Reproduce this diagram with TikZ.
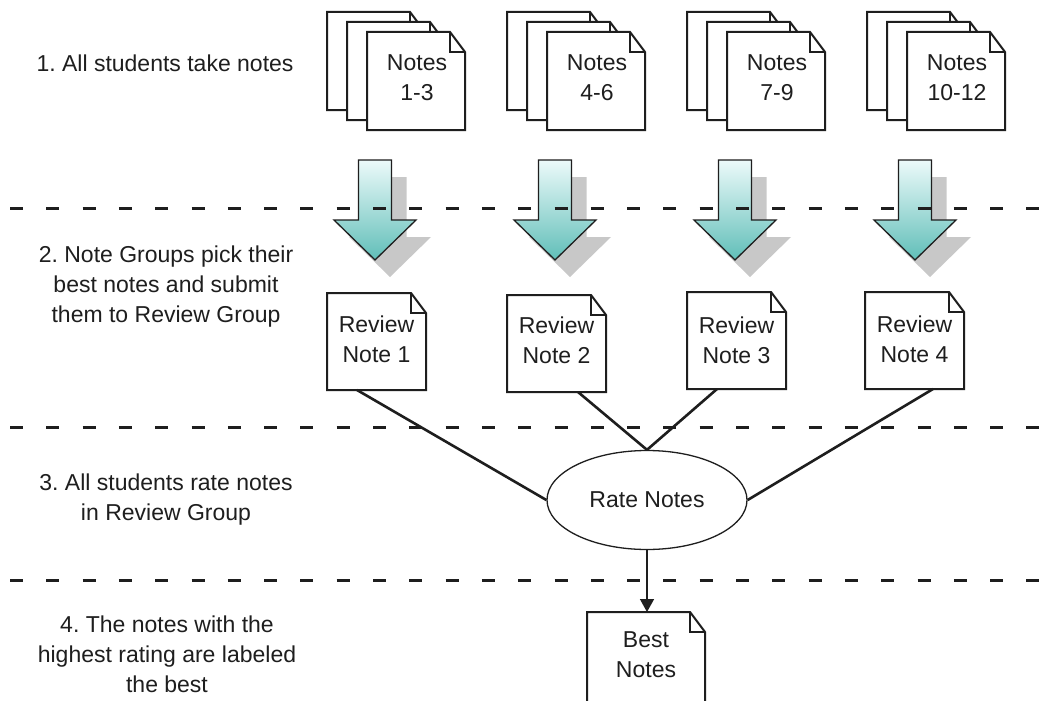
\documentclass[tikz,border=0pt]{standalone}
\usepackage{fontspec}
\setmainfont{Liberation Sans}
\usetikzlibrary{shapes.geometric,arrows.meta}
\frenchspacing
\definecolor{inkc}{RGB}{30,30,30}
\definecolor{shadowc}{RGB}{200,200,200}
\definecolor{arrtop}{RGB}{236,250,250}
\definecolor{arrbot}{RGB}{96,190,184}
\tikzset{
  sheet/.style={draw=none, inner sep=0pt, outer sep=0pt, rectangle},
  docline/.style={draw=inkc, line width=2pt, fill=white, line join=miter},
  lbl/.style={font=\fontsize{23}{30}\selectfont\frenchspacing, text=inkc, align=center, inner sep=0pt, anchor=base},
  sepline/.style={draw=inkc, line width=3pt, dash pattern=on 13pt off 23.3pt},
  bigarrow/.style={draw=inkc, line width=1.3pt, top color=arrtop, bottom color=arrbot, line join=miter},
  arrshadow/.style={fill=shadowc, draw=none},
  conn/.style={draw=inkc, line width=2.6pt},
  rateshape/.style={ellipse, draw=inkc, line width=1.3pt, fill=white, minimum width=200pt, minimum height=99pt, inner sep=0pt, font=\fontsize{23}{30}\selectfont, text=inkc},
  pointer/.style={draw=inkc, line width=1.5pt, -{Triangle[length=13pt,width=14pt]}}
}
\newcommand{\docsheet}[5]{%
  \node[sheet, minimum width=#4pt, minimum height=#5pt, anchor=north west] (#1) at (#2,#3) {};
  \draw[docline] (#1.north west) -- ([xshift=-15pt]#1.north east) -- ([yshift=-20pt]#1.north east) -- (#1.south east) -- (#1.south west) -- cycle;
  \draw[docline, fill=none] ([xshift=-15pt]#1.north east) |- ([yshift=-20pt]#1.north east);
}
\begin{document}
\begin{tikzpicture}[x=1pt, y=-1pt]
\path[use as bounding box, clip] (0,0) rectangle (1058,701);
\fill[white] (0,0) rectangle (1058,701);

% stacks of notes
\foreach \L/\t/\i in {367/1-3/1, 547/4-6/2, 727/7-9/3, 907/10-12/4} {
  \docsheet{back\i}{\L-40}{12}{98}{98}
  \docsheet{mid\i}{\L-20}{22}{98}{98}
  \docsheet{front\i}{\L}{32}{98}{98}
  \node[lbl] (ft\i) at (\L+50,100) {Notes\\\t};
}

% block arrows
\foreach \c in {375,555,735,915} {
  \fill[arrshadow, shift={(15,17)}] (\c-16.5,160) -- (\c+16.5,160) -- (\c+16.5,220) -- (\c+41,220) -- (\c,260) -- (\c-41,220) -- (\c-16.5,220) -- cycle;
  \path[bigarrow] (\c-16.5,160) -- (\c+16.5,160) -- (\c+16.5,220) -- (\c+41,220) -- (\c,260) -- (\c-41,220) -- (\c-16.5,220) -- cycle;
}

% review notes
\docsheet{rev1}{327}{293}{99}{97}
\docsheet{rev2}{507}{295}{99}{97}
\docsheet{rev3}{687}{292}{99}{97}
\docsheet{rev4}{865}{292}{99}{97}
\node[lbl] (rt1) at (376.5,362) {Review\\Note 1};
\node[lbl] (rt2) at (556.5,363) {Review\\Note 2};
\node[lbl] (rt3) at (736.5,363) {Review\\Note 3};
\node[lbl] (rt4) at (914.5,362) {Review\\Note 4};

% rate notes
\node[rateshape] (rate) at (647,500) {Rate Notes};
\draw[conn] ([xshift=-19.5pt]rev1.south) -- (rate.west);
\draw[conn] ([xshift=21.5pt]rev2.south) -- (rate.north);
\draw[conn] ([xshift=-19.5pt]rev3.south) -- (rate.north);
\draw[conn] ([xshift=18.5pt]rev4.south) -- (rate.east);

% best notes
\docsheet{best}{587}{612}{118}{110}
\node[lbl] (bt) at (646,677) {Best\\Notes};
\draw[pointer] (rate.south) -- (rate.south |- best.north);

% separators
\draw[sepline] (10,208) -- (1058,208);
\draw[sepline] (10,427) -- (1058,427);
\draw[sepline] (10,580) -- (1058,580);

% step labels
\node[lbl] (s1) at (165,71) {1. All students take notes};
\node[lbl] (s2) at (166,322) {2. Note Groups pick their\\best notes and submit\\them to Review Group};
\node[lbl] (s3) at (166,520) {3. All students rate notes\\in Review Group};
\node[lbl] (s4) at (167,692) {4. The notes with the\\highest rating are labeled\\the best};
\end{tikzpicture}
\end{document}
